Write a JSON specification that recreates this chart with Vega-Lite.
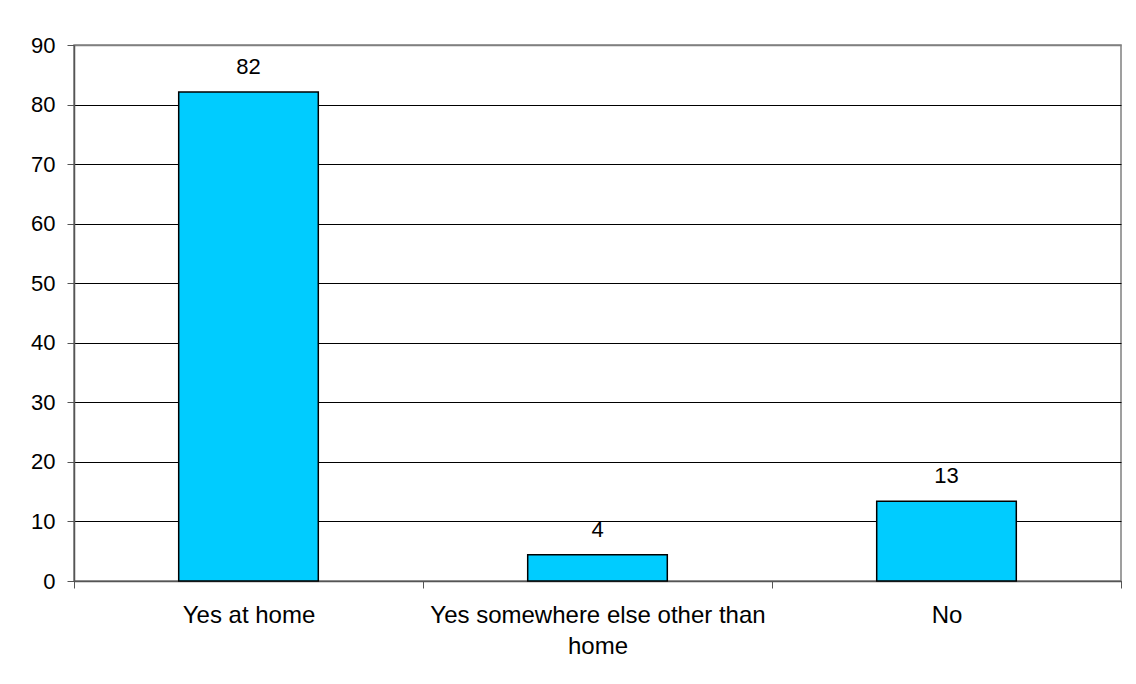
{
  "$schema": "https://vega.github.io/schema/vega-lite/v6.json",
  "autosize": {"type": "none"},
  "width": 1047,
  "height": 536,
  "padding": {"left": 74, "top": 45, "right": 15, "bottom": 103},
  "background": "white",
  "config": {
    "font": "Liberation Sans",
    "view": {"stroke": "#808080", "strokeWidth": 1.5}
  },
  "data": {
    "values": [
      {"category": "Yes at home", "value": 82.1},
      {"category": "Yes somewhere else other than home", "value": 4.4},
      {"category": "No", "value": 13.4}
    ]
  },
  "encoding": {
    "x": {
      "field": "category",
      "type": "nominal",
      "sort": null,
      "scale": {"paddingInner": 0, "paddingOuter": 0},
      "axis": {
        "title": null,
        "labelAngle": 0,
        "tickBand": "extent",
        "tickSize": 7,
        "tickColor": "#555555",
        "domainColor": "#555555",
        "domainWidth": 1.5,
        "labelPadding": 15,
        "labelFontSize": 24,
        "labelColor": "black",
        "labelLimit": 0,
        "labelLineHeight": 31,
        "labelBaseline": "top",
        "labelExpr": "datum.label == 'Yes somewhere else other than home' ? ['Yes somewhere else other than', 'home'] : datum.label",
        "grid": false
      }
    },
    "y": {
      "field": "value",
      "type": "quantitative",
      "scale": {"domain": [0, 90], "nice": false},
      "axis": {
        "title": null,
        "values": [0, 10, 20, 30, 40, 50, 60, 70, 80, 90],
        "tickSize": 7,
        "tickColor": "#555555",
        "domainColor": "#555555",
        "domainWidth": 1.5,
        "labelPadding": 12,
        "labelFontSize": 22,
        "labelColor": "black",
        "grid": true,
        "gridColor": {"condition": {"test": "datum.value == 90", "value": "#808080"}, "value": "black"},
        "gridWidth": {"condition": {"test": "datum.value == 90", "value": 1.5}, "value": 1},
        "gridOpacity": 1
      }
    }
  },
  "layer": [
    {
      "mark": {"type": "bar", "width": {"band": 0.4}, "fill": "#00CCFF", "stroke": "black", "strokeWidth": 1.5}
    },
    {
      "mark": {"type": "text", "baseline": "alphabetic", "dy": -18, "fontSize": 22, "color": "black"},
      "encoding": {
        "text": {"field": "value", "type": "quantitative", "format": ".0f"}
      }
    }
  ]
}
